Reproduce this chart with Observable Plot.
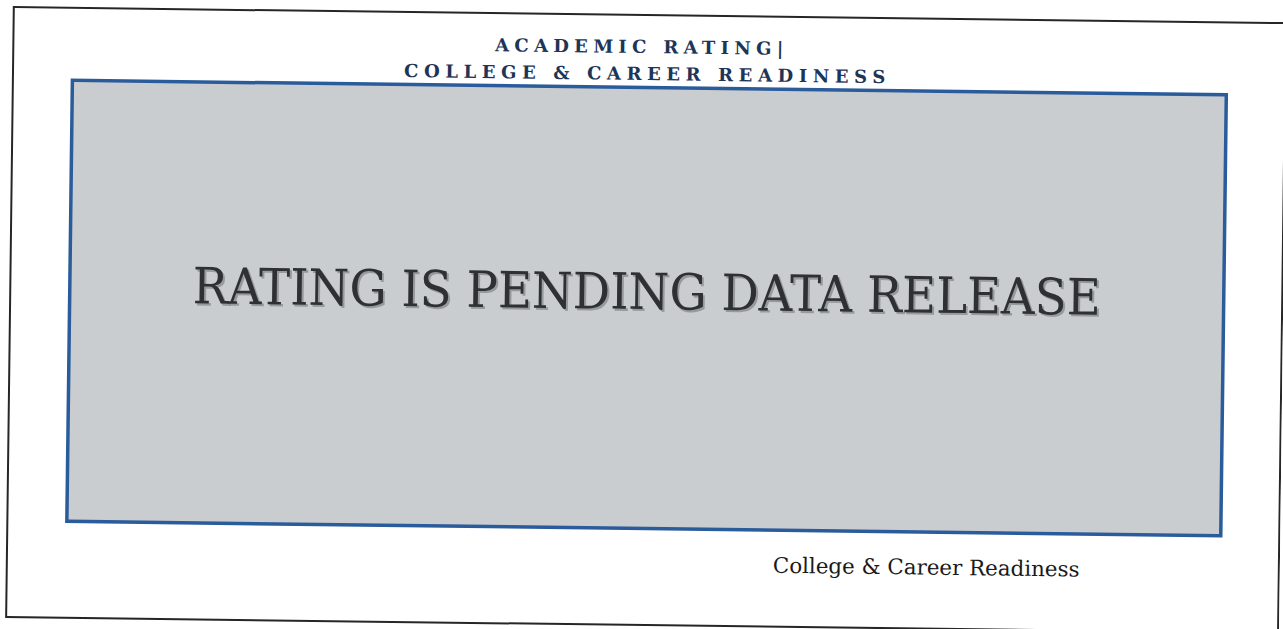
<!DOCTYPE html>
<html>
<head>
<meta charset="utf-8">
<script src="https://cdn.jsdelivr.net/npm/d3@7"></script>
<script src="https://cdn.jsdelivr.net/npm/@observablehq/plot@0.6"></script>
<style>
  html, body { margin: 0; padding: 0; background: #ffffff; }
  #page { position: relative; width: 1283px; height: 629px; overflow: hidden; background: #fff;
          transform: rotate(0.72deg); transform-origin: 641px 314px; }
  #outer { position: absolute; left: 9px; top: 14px; width: 1274px; height: 612px;
           border: 2px solid #262626; box-sizing: border-box; }
  .title { position: absolute; left: 3px; width: 1283px; text-align: center;
           font-family: "DejaVu Serif", serif; font-weight: bold; color: #1d3557;
           font-size: 18px; letter-spacing: 5.6px; line-height: 1; }
  #t1 { left: -3px; letter-spacing: 5.3px; }
  #chart { position: absolute; left: 69px; top: 87px; }
  #caption { position: absolute; left: 776px; top: 551px; font-family: "DejaVu Serif", serif;
             font-size: 21.4px; color: #1a1a1a; white-space: nowrap; }
</style>
</head>
<body>
<div id="page">
  <div id="outer"></div>
  <div class="title" id="t1"></div>
  <div class="title" id="t2"></div>
  <div id="chart"></div>
  <div id="caption"></div>
</div>
<script>
// Text content of the panel
const titleLines = ["ACADEMIC RATING|", "COLLEGE & CAREER READINESS"];
const statusMessages = ["RATING IS PENDING DATA RELEASE"];
const captionText = "College & Career Readiness";

document.getElementById("t1").textContent = titleLines[0];
document.getElementById("t2").textContent = titleLines[1];
document.getElementById("t1").style.top = "38px";
document.getElementById("t2").style.top = "65px";
document.getElementById("caption").textContent = captionText;

const chart = Plot.plot({
  width: 1154,
  height: 441,
  margin: 0,
  x: {axis: null, domain: [0, 1]},
  y: {axis: null, domain: [0, 1]},
  style: {background: "transparent", overflow: "visible"},
  marks: [
    Plot.frame({fill: "#c9cdd0", stroke: "#2a5b9b", strokeWidth: 3.5}),
    Plot.text(statusMessages, {text: d => d, frameAnchor: "middle", dx: 2, dy: -13,
      fontSize: 50, fontFamily: "DejaVu Serif", fill: "#8a8d90", fillOpacity: 0.8}),
    Plot.text(statusMessages, {text: d => d, frameAnchor: "middle", dy: -15,
      fontSize: 50, fontFamily: "DejaVu Serif", fill: "#2e3033"})
  ]
});
document.getElementById("chart").appendChild(chart);
// fit the message to the panel's measured width
d3.select(chart).selectAll("text").each(function() {
  this.setAttribute("textLength", 908);
  this.setAttribute("lengthAdjust", "spacingAndGlyphs");
});
</script>
</body>
</html>
